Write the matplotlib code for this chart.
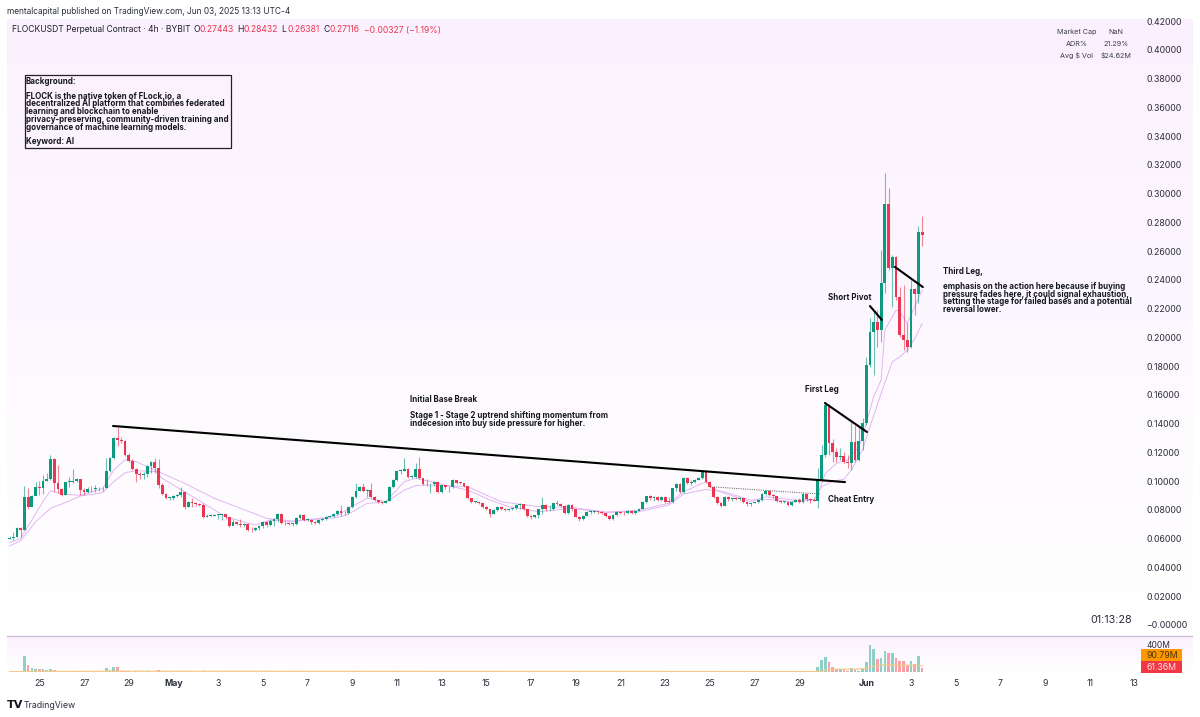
import numpy as np
import matplotlib
matplotlib.use("Agg")
import matplotlib.pyplot as plt

plt.rcParams['font.family'] = ['Inter', 'DejaVu Sans']

W, H = 1200, 717
# prices are given in units of 0.0001
closes = [607,614,672,660,892,818,897,957,953,1004,1018,1152,985,943,904,992,994,1004,1015,939,
 925,948,943,950,950,955,1071,1159,1298,1289,1282,1182,1143,1083,1050,1043,1048,1106,1136,1090,
 974,911,881,881,897,904,927,818,858,846,841,837,753,758,760,765,767,769,748,688,
 718,702,695,702,660,658,672,688,718,695,
 723,734,771,711,706,702,702,741,764,730,730,718,711,730,734,753,757,771,795,776,
 776,818,892,934,957,934,938,892,869,857,850,864,962,1008,1073,1073,1087,1031,1031,1082,
 1020,980,978,980,994,927,971,957,957,1008,990,985,966,880,855,855,848,818,806,771,
 799,823,804,797,804,811,834,839,806,757,748,762,804,
 834,804,806,846,841,827,781,834,804,753,734,760,788,788,792,788,776,760,737,765,
 785,781,776,795,776,795,809,857,895,881,888,869,888,857,853,950,980,927,1024,990,
 997,1008,1020,1066,997,957,892,850,830,892,874,883,878,881,857,839,846,853,869,911,
 934,904,897,864,853,857,832,857,869,855,911,874,868,862,
 1008,1182,1530,1263,1205,1170,1175,1136,1124,1275,1147,1282,1402,1807,2039,2109,2051,2376,2928,2480,
 2561,2278,2016,1981,1935,2334,2299,2735,2712]
highs = [619,649,679,679,969,950,904,997,1004,1043,1055,1182,1159,1113,950,997,1032,1083,1022,1018,
 950,962,969,974,962,962,1164,1171,1305,1375,1310,1287,1194,1152,1090,1066,1066,1113,1143,1159,
 1152,985,920,892,904,911,962,932,865,881,858,851,851,772,769,772,772,774,772,753,
 735,725,735,711,707,679,679,695,725,725,
 735,741,776,776,725,718,711,748,772,769,741,734,725,734,741,757,762,776,799,834,
 790,825,895,985,965,985,945,985,895,870,862,868,965,1015,1080,1085,1159,1090,1040,1124,
 1166,1025,1015,990,1000,1000,975,975,965,1012,1005,995,990,970,885,860,860,850,825,810,
 805,830,826,812,812,815,838,845,842,810,765,768,810,
 892,840,835,850,870,845,835,838,838,810,760,765,795,800,800,796,795,780,765,775,
 790,795,790,800,800,800,815,862,900,905,900,895,895,895,890,955,985,990,1032,1030,
 1010,1015,1030,1072,1070,1000,962,900,858,896,895,892,890,888,885,860,850,858,875,915,
 940,938,908,900,865,865,865,862,875,880,915,920,885,880,
 1089,1252,1542,1537,1290,1228,1228,1205,1182,1414,1391,1379,1437,1865,2132,2190,2190,2608,3141,3037,
 2573,2566,2352,2364,2097,2399,2341,2775,2843]
lows = [595,591,609,614,660,804,827,902,904,911,1004,1008,927,916,897,902,962,985,992,904,
 904,920,927,927,930,934,950,1066,1157,1245,1264,1175,1136,1078,997,1013,1013,1032,1055,1055,
 950,904,874,869,869,888,892,804,818,823,827,827,746,751,755,758,735,730,735,679,
 702,695,679,684,656,649,656,658,672,679,
 690,690,715,700,695,695,690,695,735,722,720,705,700,705,725,730,750,750,765,757,
 765,772,815,885,930,925,890,885,860,845,840,845,860,955,1000,1050,1070,1025,1025,1020,
 1015,975,970,915,970,920,920,945,925,950,980,980,960,875,850,850,840,815,800,748,
 770,795,800,790,795,800,805,805,800,750,735,745,745,
 772,795,795,800,832,818,775,775,790,748,725,730,755,775,778,775,770,750,730,730,
 760,770,768,770,770,770,790,805,850,870,865,860,860,850,845,850,935,920,915,980,
 975,985,1005,1015,990,950,885,840,820,825,860,865,870,870,850,830,830,845,850,865,
 905,895,885,855,845,845,825,825,855,845,850,860,850,860,
 811,1000,1170,1182,1135,1135,1147,1124,1089,1078,1135,1142,1217,1390,1796,1738,1935,1970,2306,2468,
 2213,2260,2004,1912,1900,1923,2155,2236,2638]
first_open = 600

# volume, millions
volumes = [4,5,6,8,230,108,59,44,39,39,29,39,34,15,6,5,5,7,4,6,
 5,4,4,5,4,7,59,29,73,78,20,14,8,6,9,6,5,9,6,5,
 25,9,7,6,5,5,9,14,7,6,6,5,8,5,4,4,5,6,7,9,
 5,4,4,5,8,6,5,4,6,5,5,6,7,4,5,4,5,6,4,4,
 5,4,4,5,3,4,4,5,4,6,4,5,9,7,5,6,5,6,4,4,
 3,4,9,8,8,6,9,5,4,6,9,5,5,5,4,5,4,4,3,6,
 4,4,4,6,5,4,4,5,5,7,4,4,3,4,3,4,5,4,4,5,
 4,4,5,8,5,4,4,5,4,5,6,7,4,3,4,3,3,4,4,4,
 5,6,4,3,4,4,3,4,3,4,6,8,5,4,4,3,4,5,4,6,
 5,6,4,5,4,4,5,7,8,6,6,7,5,4,5,4,4,3,4,4,
 5,6,5,4,4,3,3,4,3,5,4,6,9,8,4,5,6,
 75,180,220,147,75,50,50,35,20,60,30,20,60,148,400,343,186,206,310,285,
 285,206,162,162,90,157,122,236,61]
x_vol_ma = [0,30,216,217,222,226,230,232,236,240,245]
vol_ma = [5,12,6,12,40,40,50,90,105,100,91]

# moving averages read at a few candles
x_fast = [0,3,6,9,11,14,19,25,28,31,34,39,41,47,58,66,70,76,88,91,96,101,106,109,112,123,129,134,142,
 151,160,169,177,181,187,189,192,199,203,211,216,217,219,222,225,228,229,232,234,235,238,239,241,243,245]
fast = [572,602,730,858,934,911,902,950,1078,1148,1136,1078,1020,927,753,695,730,718,758,811,881,858,997,1020,1003,938,869,823,788,
 811,783,799,846,927,997,950,915,857,892,869,874,904,1054,1124,1147,1240,1310,1588,1704,2051,2190,2178,2097,2213,2329]
x_slow = [0,3,7,11,16,19,25,28,31,34,40,46,55,69,76,88,91,96,101,106,109,112,123,132,142,
 151,160,169,177,181,187,189,192,199,203,211,216,218,221,224,226,229,231,234,237,239,241,243,245]
slow = [549,586,718,811,862,897,920,997,1059,1073,1066,997,881,742,723,746,771,846,853,938,969,973,962,857,823,
 818,785,788,834,911,943,934,925,869,874,857,869,962,1001,1013,1078,1217,1379,1611,1830,1865,1912,1990,2097]

price_ticks = [0.42,0.40,0.38,0.36,0.34,0.32,0.30,0.28,0.26,0.24,0.22,0.20,0.18,0.16,0.14,0.12,0.10,0.08,0.06,0.04,0.02,0.0]
tick_candles = [8,20,32,44,56,68,80,92,104,116,128,140,152,164,176,188,200,212,230,242,254,266,278,290,302]
tick_labels = ['25','27','29','May','3','5','7','9','11','13','15','17','19','21','23','25','27','29','Jun','3','5','7','9','11','13']

trend = ([27.8,224.3],[.1384,.0994])
first_leg = ([218.9,230.2],[.1544,.1342])
short_pivot = ([231,234.2],[.2218,.2121])
third_leg = ([237.7,245.2],[.2490,.2350])
cheat = ([189.1,217.6],[.0960,.0911])

UP, DOWN = '#0b9a7f', '#ea3650'
TXT = '#1e222d'
LILAC = '#dfb2f0'

fig = plt.figure(figsize=(W/100, H/100), dpi=100, facecolor='white')
def axpx(x0, y0, x1, y1, **k):
    return fig.add_axes([x0/W, 1-y1/H, (x1-x0)/W, (y1-y0)/H], **k)
def T(x, y, s, **k):
    k.setdefault('va', 'center'); k.setdefault('color', TXT)
    return fig.text(x/W, 1-y/H, s, **k)

# pane backgrounds
grad = np.ones((256, 2, 3))
top = np.array([0xfb, 0xf1, 0xfe])/255
for c_i in range(3):
    grad[:, :, c_i] = np.linspace(top[c_i], 1, 256)[:, None]
bg1 = axpx(7, 19, 1193, 635); bg1.imshow(grad, aspect='auto'); bg1.axis('off')
bg2 = axpx(7, 636, 1193, 672); bg2.imshow(grad, aspect='auto'); bg2.axis('off')

ax = axpx(7, 19, 1139, 635)
ax.patch.set_alpha(0)
o = np.array([first_open]+closes[:-1])/1e4
c = np.array(closes)/1e4; h = np.array(highs)/1e4; l = np.array(lows)/1e4
x = np.arange(len(c))
assert len(c) == len(h) == len(l) == len(volumes) == 246, (len(c), len(h), len(l), len(volumes))
up = c >= o
cols = [UP if u else DOWN for u in up]
ax.plot(x_fast, np.array(fast)/1e4, color=LILAC, lw=0.65, zorder=1)
ax.plot(x_slow, np.array(slow)/1e4, color=LILAC, lw=0.65, zorder=1)
ax.vlines(x, l, h, colors=cols, lw=0.8, alpha=0.6, zorder=2)
ax.bar(x, np.maximum(np.abs(c-o), 0.0006), bottom=np.minimum(o, c), width=0.76, color=cols, lw=0, zorder=3)
for ln in (trend, first_leg, short_pivot, third_leg):
    ax.plot(*ln, color='black', lw=1.5, zorder=5, solid_capstyle='round')
ax.plot(*cheat, color='#555555', lw=0.7, ls=(0, (1, 1.3)), zorder=4)
ax.set_xlim((7-9.5)/3.725, (1139-9.5)/3.725)
ax.set_ylim((625-635)/1438, (625-19)/1438)
ax.axis('off')

# volume pane
vx = axpx(7, 636, 1139, 672)
vx.patch.set_alpha(0)
vcols = ['#8fd0c6' if u else '#f8a0a8' for u in up]
vx.bar(x, volumes, width=0.72, color=vcols, lw=0)
vx.plot(x_vol_ma, vol_ma, color='#f5c98a', lw=0.9)
vx.set_xlim(ax.get_xlim()); vx.set_ylim(0, 36/0.0683)
vx.axis('off')
fig.add_artist(plt.Line2D([7/W, 1192/W], [1-635.5/H]*2, color='#cbbfdc', lw=1))

# axis labels, placed from the scales
for p in price_ticks:
    ypx = 625 - p*1438 + 1
    T(1146.5, ypx, ('\u2212%.5f' if p == 0 else '%.5f') % p, fontsize=6.3, color='#2a2e39')
for t, s in zip(tick_candles, tick_labels):
    xpx = 9.5 + 3.725*t
    bold = s in ('May', 'Jun')
    T(xpx, 683.5, s, fontsize=6.3, ha='center', color='#2a2e39', fontweight='bold' if bold else 'normal')

# header
T(7, 11, 'mentalcapital published on TradingView.com, Jun 03, 2025 13:13 UTC-4', fontsize=6.0, color='#2a2e39')
T(12.5, 30, 'FLOCKUSDT Perpetual Contract \u00b7 4h \u00b7 BYBIT', fontsize=6.15)
for px, s, col in [(193.5,'O',TXT),(199,'0.27443',DOWN),(237,'H',TXT),(243.5,'0.28432',DOWN),(281.5,'L',TXT),(287,'0.26381',DOWN),
                   (323,'C',TXT),(330,'0.27116',DOWN),(364.5,'\u22120.00327 (\u22121.19%)',DOWN)]:
    T(px, 30, s, fontsize=6.15, color=col)

# stats table
for yy, a, b in [(32,'Market Cap','NaN'),(44,'ADR%','21.29%'),(55.5,'Avg $ Vol','$24.62M')]:
    T(1076.5, yy, a, fontsize=5.2, ha='center', color='#3a3e49')
    T(1116, yy, b, fontsize=5.2, ha='center', color='#3a3e49')

# background box
fig.add_artist(plt.Rectangle((24.5/W, 1-148/H), 206/W, 73/H, fill=False, ec='#222222', lw=0.9))
box_lines = [(81,'Background:'),(96.5,'FLOCK is the native token of FLock.io, a'),
             (104,'decentralized AI platform that combines federated'),(112,'learning and blockchain to enable'),
             (119.5,'privacy-preserving, community-driven training and'),(127,'governance of machine learning models.'),(142,'Keyword: AI')]
AN = dict(fontsize=5.75, fontweight='bold', color='#16181f')
for yy, s in box_lines:
    T(26, yy, s, **AN)

# chart notes
for xx, yy, s in [(410,400,'Initial Base Break'),(410,415,'Stage 1 - Stage 2 uptrend shifting momentum from'),
                  (410,423,'indecesion into buy side pressure for higher.'),(805,389,'First Leg'),
                  (828,298,'Short Pivot'),(828,499,'Cheat Entry'),(943,271,'Third Leg,'),
                  (943,286,'emphasis on the action here because if buying'),(943,294,'pressure fades here, it could signal exhaustion,'),
                  (943,302,'setting the stage for failed bases and a potential'),(943,310,'reversal lower.')]:
    T(xx, yy, s, **AN)

T(1090, 620, '01:13:28', fontsize=7.8, color='#2a2e39')

# volume labels
T(1146.5, 646, '400M', fontsize=6.1, color='#2a2e39')
fig.add_artist(plt.Rectangle((1140.5/W, 1-661/H), 41/W, 12/H, fc='#ff9800', ec='none'))
fig.add_artist(plt.Rectangle((1140.5/W, 1-672.5/H), 41/W, 11.5/H, fc='#f23645', ec='none'))
T(1146.5, 655, '90.79M', fontsize=6.3, color='#4a3400')
T(1146.5, 667, '61.36M', fontsize=6.3, color='#ffe3e3')

# footer
T(7, 705, 'TV', fontsize=8, fontweight='bold', color='#131722', family=['DejaVu Sans'])
T(24, 705, 'TradingView', fontsize=6.3, color='#2a2e39')

fig.savefig('out.png', dpi=100)
